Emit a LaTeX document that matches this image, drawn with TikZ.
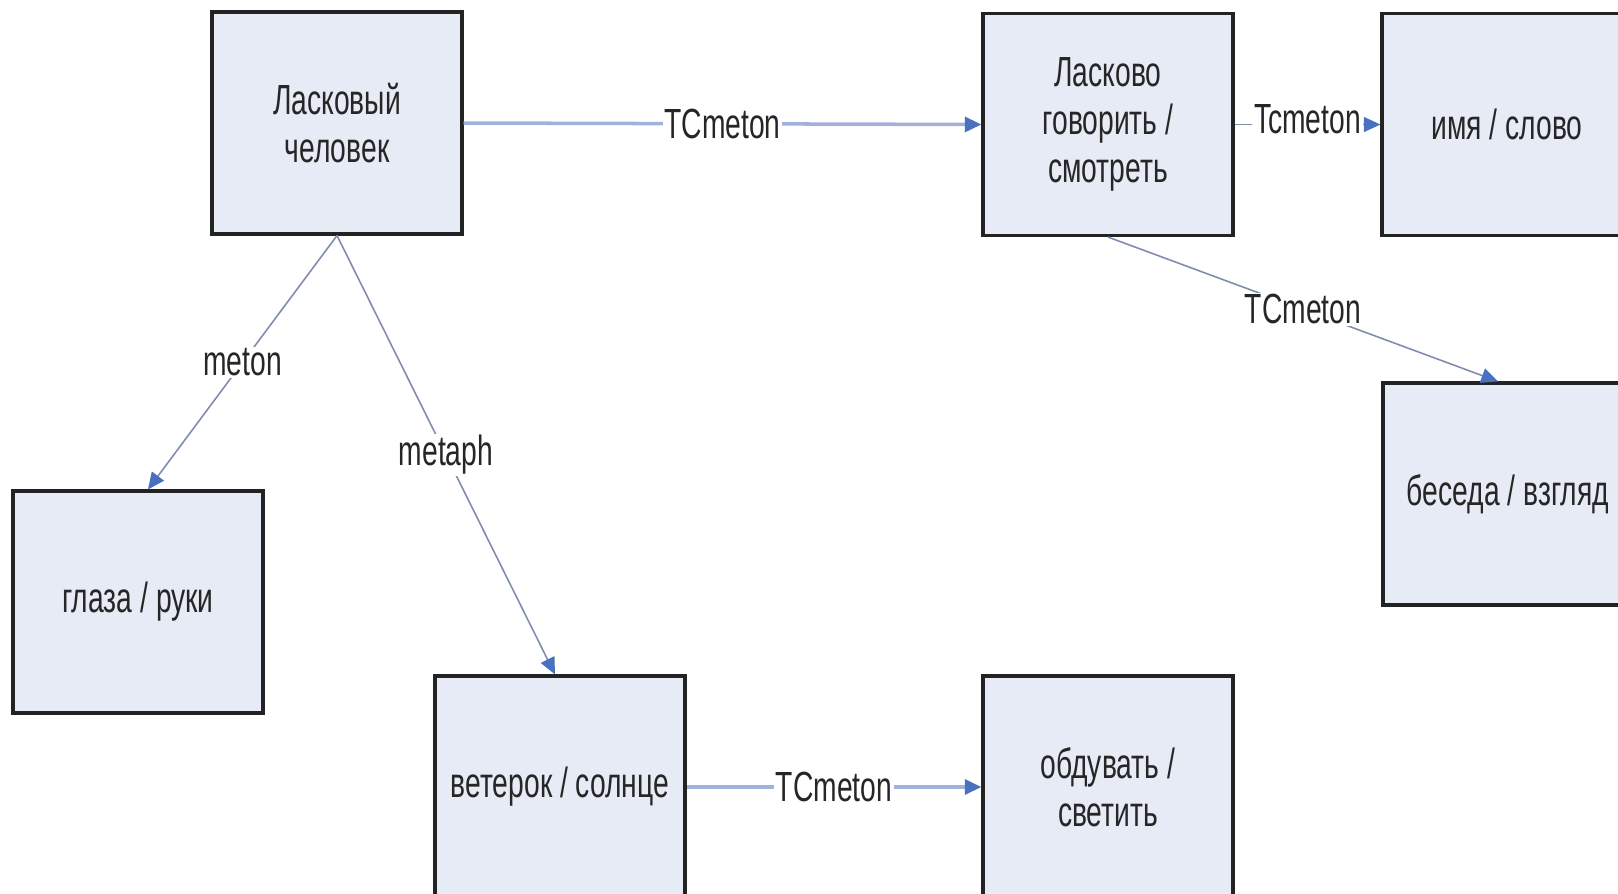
\documentclass[tikz,border=0pt]{standalone}
\usepackage{fontspec}
\setmainfont{Liberation Sans}[FakeStretch=0.67]
\usetikzlibrary{arrows.meta}

\definecolor{boxfill}{RGB}{230,235,245}
\definecolor{boxline}{RGB}{35,35,35}
\definecolor{tipblue}{RGB}{74,112,192}
\definecolor{linkthick}{RGB}{163,176,220}
\definecolor{linkthin}{RGB}{128,140,175}

\tikzset{
  concept/.style={draw=boxline, line width=1.8pt, fill=boxfill,
    minimum width=5cm, minimum height=4.44cm, align=center,
    text=black!85, font=\fontsize{24}{27.5}\selectfont},
  link/.style={line width=0.9pt, draw=linkthin,
    -{Triangle[length=9.5pt, width=8.5pt, color=tipblue]}},
  wide link/.style={link, line width=2pt, draw=linkthick},
  lbl/.style={fill=white, inner sep=1pt, text=black!85,
    font=\fontsize{24}{27.5}\selectfont}
}

\begin{document}
\begin{tikzpicture}[x=0.02cm, y=-0.02cm]
    \useasboundingbox (0,0) rectangle (1618,893);
    % boxes
    \node[concept] (lask) at (337,123) {Ласковый\\человек};
    \node[concept] (govor) at (1108,124.5) {Ласково\\говорить /\\смотреть};
    \node[concept] (imya) at (1507,124.5) {имя / слово};
    \node[concept] (beseda) at (1508,494) {беседа / взгляд};
    \node[concept] (glaza) at (138,602) {глаза / руки};
    \node[concept] (veter) at (560,787) {ветерок / солнце};
    \node[concept] (obduv) at (1108,787) {обдувать /\\светить};

    % links
    \draw[wide link] (lask.east) -- node[lbl] {TCmeton} (govor.west);
    \draw[link] (govor.east) -- node[lbl, yshift=0.1cm] {Tcmeton} (imya.west);
    \draw[link] (govor.south) -- node[lbl] {TCmeton} ([xshift=-0.2cm]beseda.north);
    \draw[link] (lask.south) -- node[lbl] {meton} ([xshift=0.2cm]glaza.north);
    \draw[link] (lask.south) -- node[lbl] {metaph} ([xshift=-0.1cm]veter.north);
    \draw[wide link] (veter.east) -- node[lbl] {TCmeton} (obduv.west);
\end{tikzpicture}
\end{document}
